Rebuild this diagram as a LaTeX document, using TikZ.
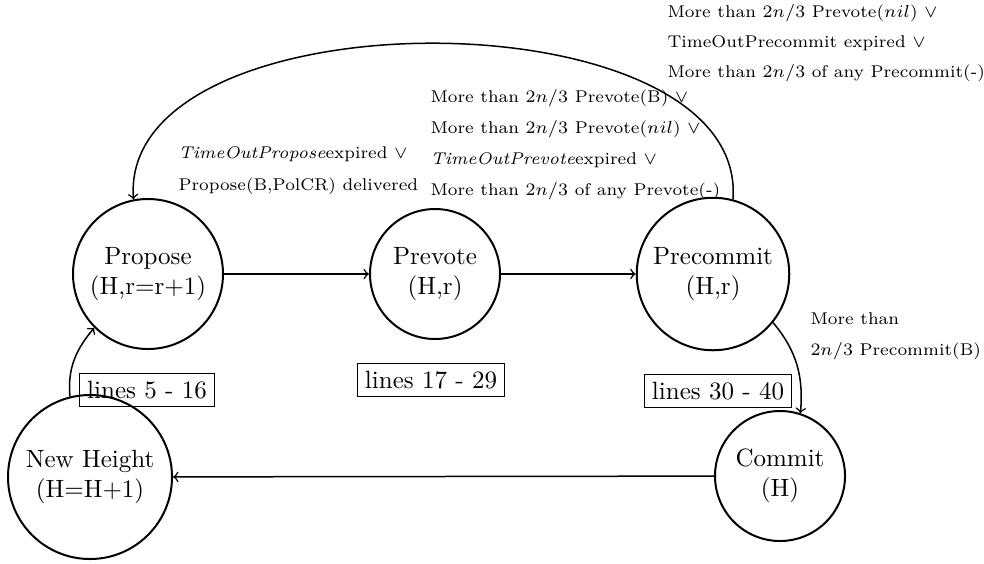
\documentclass[tikz,border=0pt]{standalone}
\begin{document}
\begin{tikzpicture}[x=0.4pt,y=0.4pt,
  st/.style={circle,draw,thick,align=center,inner sep=0pt},
  lbox/.style={draw,semithick,inner sep=3pt},
  lab/.style={align=left,anchor=north west,inner sep=0pt,font=\fontsize{6.8}{12.4}\selectfont},
  edge/.style={->,semithick}]
\useasboundingbox (0,0) rectangle (984,563);
\node[st,minimum size=60pt] (pp) at (148,289) {Propose\\(H,r=r+1)};
\node[st,minimum size=52pt] (pv) at (435,289) {Prevote\\(H,r)};
\node[st,minimum size=61pt] (pc) at (713,289) {Precommit\\(H,r)};
\node[st,minimum size=52pt] (cm) at (780,87) {Commit\\(H)};
\node[st,minimum size=65.6pt] (nh) at (90,86) {New Height\\(H=H+1)};
\node[lbox] (b1) at (147,173) {lines 5 - 16};
\node[lbox] (b2) at (431,183) {lines 17 - 29};
\node[lbox] (b3) at (718,172) {lines 30 - 40};
\node[lab,font=\fontsize{6.8}{12}\selectfont] (l1) at (667,559) {More than $2n/3$ Prevote($nil$) $\vee$\\TimeOutPrecommit expired $\vee$\\More than $2n/3$ of any Precommit(-)};
\node[lab] (l2) at (430,474) {More than $2n/3$ Prevote(B) $\vee$\\More than $2n/3$ Prevote($nil$) $\vee$\\\textit{TimeOutPrevote}expired $\vee$\\More than $2n/3$ of any Prevote(-)};
\node[lab,font=\fontsize{6.8}{12.8}\selectfont] (l3) at (178,417) {\textit{TimeOutPropose}expired $\vee$\\Propose(B,PolCR) delivered};
\node[lab] (l4) at (810,251) {More than\\$2n/3$ Precommit(B)};
\draw[edge] (pp) -- (pv);
\draw[edge] (pv) -- (pc);
\draw[edge] (cm) -- (nh);
\draw[edge] (pc.75) .. controls +(15,208) and +(-15,208) .. (pp.101);
\draw[edge] (pc.-39) to[out=-50,in=85] (cm.72);
\draw[edge] (nh.104) to[out=95,in=230] (pp.225);
\end{tikzpicture}
\end{document}
